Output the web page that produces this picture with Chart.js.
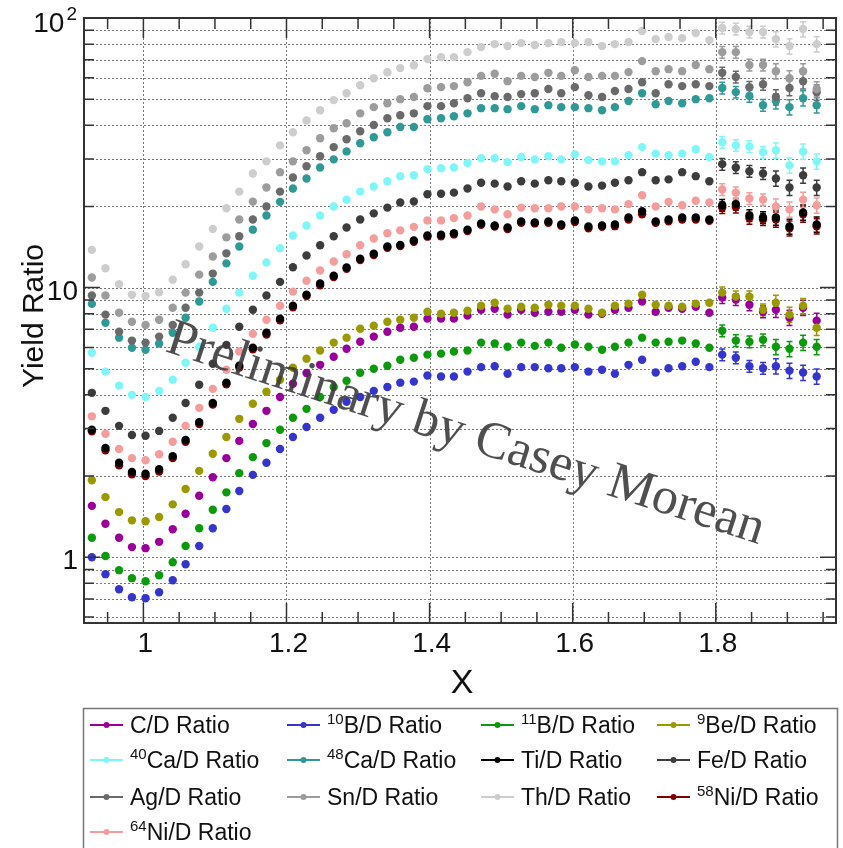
<!DOCTYPE html>
<html>
<head>
<meta charset="utf-8">
<script src="https://cdn.jsdelivr.net/npm/chart.js@4.4.1/dist/chart.umd.min.js"></script>
<style>
  html, body { margin: 0; padding: 0; background: #ffffff; }
  canvas { display: block; }
</style>
</head>
<body>
<canvas id="ratioChart" width="843" height="848"></canvas>
<script>
// x bin centres
const xVals = [0.928, 0.947, 0.966, 0.984, 1.003, 1.022, 1.041, 1.059, 1.078, 1.097,
    1.116, 1.134, 1.153, 1.172, 1.191, 1.209, 1.228, 1.247, 1.266, 1.284,
    1.303, 1.322, 1.341, 1.359, 1.378, 1.397, 1.416, 1.434, 1.453, 1.472,
    1.491, 1.509, 1.528, 1.547, 1.566, 1.584, 1.603, 1.622, 1.641, 1.659,
    1.678, 1.697, 1.716, 1.734, 1.753, 1.772, 1.791, 1.809, 1.828, 1.847,
    1.866, 1.884, 1.903, 1.922, 1.941];

// yield ratios, one array per target
const cRatio = [1.55, 1.33, 1.18, 1.09, 1.08, 1.14, 1.27, 1.45, 1.69, 1.98, 2.33, 2.70, 3.12, 3.49, 3.93, 4.40, 4.82, 5.17, 5.54, 5.93, 6.30, 6.58, 6.86, 7.10, 7.16, 7.67, 7.67, 7.67, 7.87, 8.28, 8.35, 7.94, 8.28, 8.07, 8.14, 8.14, 8.28, 7.94, 8.0, 8.28, 8.42, 8.88, 8.14, 8.42, 8.35, 8.49, 8.07, 9.18, 9.03, 8.64, 8.14, 8.28, 7.73, 8.42, 7.54];
const b10Ratio = [1.0, 0.865, 0.760, 0.710, 0.704, 0.741, 0.821, 0.942, 1.10, 1.28, 1.51, 1.76, 2.02, 2.24, 2.52, 2.79, 3.04, 3.29, 3.52, 3.77, 3.93, 4.14, 4.28, 4.44, 4.48, 4.72, 4.68, 4.68, 4.88, 5.07, 5.11, 4.79, 5.07, 5.07, 5.02, 5.02, 5.07, 4.88, 4.96, 4.79, 5.17, 5.40, 4.84, 5.02, 5.11, 5.31, 5.07, 5.64, 5.49, 5.11, 5.02, 5.11, 4.92, 4.84, 4.68];
const b11Ratio = [1.18, 1.01, 0.895, 0.836, 0.814, 0.857, 0.958, 1.10, 1.28, 1.50, 1.74, 2.05, 2.35, 2.65, 2.97, 3.29, 3.55, 3.93, 4.28, 4.51, 4.83, 5.0, 5.13, 5.40, 5.49, 5.64, 5.69, 5.79, 5.84, 6.25, 6.20, 6.03, 6.25, 6.08, 6.25, 5.98, 6.15, 6.03, 5.88, 6.03, 6.25, 6.52, 6.25, 6.30, 6.36, 6.20, 5.98, 6.92, 6.36, 6.30, 6.41, 6.03, 5.93, 6.25, 6.03];
const be9Ratio = [1.93, 1.67, 1.47, 1.37, 1.36, 1.41, 1.57, 1.79, 2.09, 2.42, 2.79, 3.26, 3.71, 4.11, 4.55, 5.04, 5.45, 5.84, 6.25, 6.52, 7.04, 7.22, 7.47, 7.60, 7.73, 8.14, 8.0, 8.07, 8.21, 8.56, 8.79, 8.35, 8.49, 8.42, 8.64, 8.56, 8.56, 8.35, 8.07, 8.56, 8.72, 9.41, 8.64, 8.56, 8.49, 8.72, 8.79, 9.58, 9.26, 9.26, 8.28, 8.79, 7.94, 8.56, 7.10];
const ca40Ratio = [5.73, 4.88, 4.33, 4.0, 3.93, 4.14, 4.55, 5.26, 6.03, 7.1, 8.35, 9.58, 11.07, 12.4, 14.0, 15.6, 17.0, 18.5, 20.0, 21.2, 22.7, 23.7, 24.8, 25.9, 26.1, 27.5, 27.7, 27.9, 29.0, 30.2, 30.2, 29.2, 30.5, 29.9, 30.7, 29.9, 31.2, 29.7, 29.4, 29.4, 31.0, 33.2, 31.4, 31.0, 31.4, 32.6, 30.5, 34.6, 33.7, 33.4, 31.8, 32.3, 28.4, 32.0, 29.4];
const ca48Ratio = [8.7, 7.41, 6.52, 5.98, 5.88, 6.2, 6.8, 7.73, 8.88, 10.5, 12.3, 14.2, 16.4, 18.5, 20.8, 23.3, 25.4, 27.9, 29.9, 32.0, 34.3, 36.1, 37.7, 39.4, 39.4, 42.1, 42.5, 43.2, 44.3, 46.3, 46.3, 45.9, 47.1, 45.9, 47.5, 46.7, 46.7, 46.3, 45.5, 46.7, 49.2, 52.6, 47.9, 49.2, 48.3, 50.0, 50.4, 55.0, 53.1, 51.3, 47.5, 49.2, 46.7, 50.4, 47.5];
const tiRatio = [2.97, 2.54, 2.24, 2.07, 2.04, 2.12, 2.37, 2.72, 3.17, 3.73, 4.44, 5.13, 5.98, 6.80, 7.67, 8.56, 9.41, 10.35, 11.07, 11.87, 12.8, 13.35, 14.2, 14.4, 14.95, 15.6, 15.7, 15.9, 16.4, 17.3, 17.0, 16.7, 17.6, 17.45, 17.6, 17.15, 17.75, 16.85, 17.0, 17.15, 18.2, 19.2, 17.6, 17.9, 18.2, 18.2, 17.9, 20.2, 20.4, 18.5, 18.2, 18.2, 16.85, 19.0, 17.15];
const feRatio = [4.07, 3.49, 3.07, 2.84, 2.82, 2.94, 3.29, 3.73, 4.36, 5.22, 6.13, 7.16, 8.28, 9.35, 10.5, 11.9, 13.15, 14.35, 15.5, 16.7, 17.9, 18.85, 19.8, 20.7, 20.85, 22.2, 22.3, 22.5, 23.3, 24.5, 24.3, 23.7, 24.8, 24.3, 25.0, 24.8, 24.5, 23.7, 23.9, 24.5, 25.0, 26.8, 25.0, 25.2, 26.8, 25.9, 24.8, 28.7, 27.9, 27.0, 26.5, 25.4, 23.5, 26.1, 23.5];
const agRatio = [9.35, 7.94, 6.86, 6.36, 6.25, 6.58, 7.27, 8.42, 9.58, 11.27, 13.4, 15.5, 17.9, 20.0, 22.7, 25.6, 28.2, 30.7, 33.2, 35.5, 38.0, 40.1, 42.5, 43.6, 44.3, 47.1, 47.1, 48.3, 50.4, 52.6, 51.3, 50.9, 52.2, 52.6, 54.5, 52.6, 55.4, 51.7, 50.9, 53.6, 54.5, 57.8, 52.6, 56.8, 55.9, 56.8, 55.9, 62.6, 60.4, 55.4, 56.8, 50.9, 55.0, 58.3, 53.0];
const snRatio = [10.9, 9.35, 8.07, 7.47, 7.27, 7.60, 8.42, 9.58, 11.17, 13.04, 15.36, 17.9, 20.84, 23.5, 26.8, 29.4, 32.3, 35.8, 39.0, 40.7, 44.3, 46.7, 48.3, 50.0, 50.9, 54.9, 55.4, 55.9, 57.8, 61.0, 62.1, 58.3, 61.0, 60.4, 62.6, 61.0, 64.0, 60.4, 61.0, 61.0, 63.0, 69.2, 63.5, 64.6, 63.5, 66.9, 64.6, 74.7, 74.7, 66.9, 66.9, 63.5, 59.8, 63.5, 54.5];
const thRatio = [13.8, 11.8, 10.3, 9.4, 9.3, 9.6, 10.7, 12.2, 14.2, 16.5, 19.7, 22.7, 26.5, 29.4, 33.7, 37.7, 41.7, 45.5, 49.6, 52.6, 56.3, 59.8, 62.9, 65.2, 66.8, 70.4, 71.6, 71.6, 74.7, 78.0, 80.0, 78.7, 80.7, 79.4, 80.7, 81.4, 80.7, 81.4, 78.7, 80.0, 81.4, 89.5, 83.5, 85.0, 84.2, 88.0, 82.8, 91.8, 91.0, 88.7, 88.7, 83.5, 78.7, 91.0, 80.0];
const ni58Ratio = [2.93, 2.49, 2.19, 2.03, 2.0, 2.08, 2.33, 2.68, 3.12, 3.68, 4.38, 5.05, 5.9, 6.7, 7.57, 8.45, 9.3, 10.2, 10.95, 11.75, 12.65, 13.2, 14.05, 14.25, 14.8, 15.45, 15.5, 15.75, 16.2, 17.1, 16.85, 16.5, 17.4, 17.3, 17.4, 16.95, 17.5, 16.6, 16.8, 16.9, 17.9, 18.7, 17.4, 17.6, 17.9, 17.9, 17.7, 19.8, 19.9, 18.1, 17.9, 17.9, 16.6, 18.7, 16.9];
const ni64Ratio = [3.33, 2.87, 2.52, 2.33, 2.29, 2.41, 2.68, 3.07, 3.58, 4.21, 4.96, 5.79, 6.74, 7.60, 8.56, 9.66, 10.6, 11.57, 12.5, 13.3, 14.35, 15.2, 15.9, 16.3, 16.8, 17.75, 17.75, 18.1, 18.5, 20.0, 19.5, 18.7, 19.8, 19.7, 19.7, 20.0, 20.0, 19.5, 19.7, 19.5, 20.4, 22.0, 20.0, 20.8, 20.2, 21.0, 20.7, 23.1, 22.5, 21.4, 21.2, 20.0, 19.5, 21.2, 20.2];

// relative statistical error per bin (same for all targets)
const relErr = [0.008, 0.008, 0.008, 0.008, 0.008, 0.008, 0.008, 0.008, 0.008, 0.008,
    0.008, 0.008, 0.008, 0.008, 0.008, 0.008, 0.008, 0.008, 0.008, 0.008,
    0.008, 0.008, 0.008, 0.008, 0.008, 0.008, 0.008, 0.008, 0.008, 0.008,
    0.008, 0.008, 0.008, 0.008, 0.008, 0.02, 0.02, 0.02, 0.02, 0.02,
    0.02, 0.035, 0.035, 0.035, 0.035, 0.035, 0.035, 0.05, 0.05, 0.05,
    0.05, 0.065, 0.065, 0.065, 0.065];

// legend text, isotope superscripts and colours (legend order)
const seriesNames = ['C/D Ratio', 'B/D Ratio', 'B/D Ratio', 'Be/D Ratio', 'Ca/D Ratio', 'Ca/D Ratio',
    'Ti/D Ratio', 'Fe/D Ratio', 'Ag/D Ratio', 'Sn/D Ratio', 'Th/D Ratio', 'Ni/D Ratio', 'Ni/D Ratio'];
const seriesSups = ['', '10', '11', '9', '40', '48', '', '', '', '', '', '58', '64'];
const seriesColors = ['#990099', '#3535cc', '#0b9a0b', '#9a9a00', '#80f7f7', '#2f9995',
    '#000000', '#3c3c3c', '#6a6a6a', '#9c9c9c', '#cdcdcd', '#800000', '#f59c9c'];
const seriesValues = [cRatio, b10Ratio, b11Ratio, be9Ratio, ca40Ratio, ca48Ratio,
    tiRatio, feRatio, agRatio, snRatio, thRatio, ni58Ratio, ni64Ratio];

// axis ticks
const xTickValues = [1, 1.2, 1.4, 1.6, 1.8];
const xTickLabels = ['1', '1.2', '1.4', '1.6', '1.8'];
const xMinorTicks = [0.95, 1.05, 1.1, 1.15, 1.25, 1.3, 1.35, 1.45, 1.5, 1.55,
    1.65, 1.7, 1.75, 1.85, 1.9, 1.95];
const yTickValues = [1, 10, 100];
const yTickLabels = ['1', '10', '10'];
const yTickSups = ['', '', '2'];
const yMinorTicks = [0.6, 0.7, 0.8, 0.9, 2, 3, 4, 5, 6, 7, 8, 9, 20, 30, 40, 50, 60, 70, 80, 90];

const SANS = '"Liberation Sans", Arial, Helvetica, sans-serif';
const SERIF = '"Liberation Serif", "Times New Roman", serif';

const datasets = seriesValues.map((vals, i) => ({
    label: (seriesSups[i] ? seriesSups[i] : '') + seriesNames[i],
    data: vals.map((v, k) => ({ x: xVals[k], y: v })),
    showLine: false,
    pointRadius: 4.2,
    pointHoverRadius: 4.2,
    pointBorderWidth: 0,
    pointBackgroundColor: seriesColors[i],
    backgroundColor: seriesColors[i],
    borderColor: seriesColors[i],
    // later entries on top, Ti kept above 58Ni
    order: i === 6 ? -20 : -i
}));

const rootStyle = {
    id: 'rootStyle',
    beforeDraw(chart) {
        const ctx = chart.ctx;
        ctx.save();
        ctx.fillStyle = '#ffffff';
        ctx.fillRect(0, 0, chart.width, chart.height);
        ctx.restore();
    },
    beforeDatasetsDraw(chart) {
        const ctx = chart.ctx;
        const area = chart.chartArea;
        const xs = chart.scales.x;
        const ys = chart.scales.y;

        // dotted grid
        ctx.save();
        ctx.strokeStyle = '#7a7a7a';
        ctx.lineWidth = 1;
        ctx.setLineDash([2, 2]);
        xTickValues.forEach(v => {
            const px = Math.round(xs.getPixelForValue(v)) + 0.5;
            ctx.beginPath();
            ctx.moveTo(px, area.top);
            ctx.lineTo(px, area.bottom);
            ctx.stroke();
        });
        yTickValues.concat(yMinorTicks).forEach(v => {
            if (v >= 100) return;
            const py = Math.round(ys.getPixelForValue(v)) + 0.5;
            ctx.beginPath();
            ctx.moveTo(area.left, py);
            ctx.lineTo(area.right, py);
            ctx.stroke();
        });
        ctx.restore();

        // error bars
        ctx.save();
        ctx.lineWidth = 1.5;
        seriesValues.forEach((vals, s) => {
            ctx.strokeStyle = seriesColors[s];
            vals.forEach((v, k) => {
                const e = relErr[k];
                const px = xs.getPixelForValue(xVals[k]);
                const top = ys.getPixelForValue(v * (1 + e));
                const bot = ys.getPixelForValue(v * (1 - e));
                if (bot - top < 9) return;
                ctx.beginPath();
                ctx.moveTo(px, top);
                ctx.lineTo(px, bot);
                ctx.moveTo(px - 3, top);
                ctx.lineTo(px + 3, top);
                ctx.moveTo(px - 3, bot);
                ctx.lineTo(px + 3, bot);
                ctx.stroke();
            });
        });
        ctx.restore();
    },
    afterDatasetsDraw(chart) {
        const ctx = chart.ctx;
        const area = chart.chartArea;
        const xs = chart.scales.x;
        const ys = chart.scales.y;

        ctx.save();
        // frame
        ctx.strokeStyle = '#333333';
        ctx.lineWidth = 2;
        ctx.strokeRect(area.left, area.top, area.right - area.left, area.bottom - area.top);

        // ticks
        ctx.lineWidth = 1.5;
        const xTick = (v, len) => {
            const px = xs.getPixelForValue(v);
            ctx.beginPath();
            ctx.moveTo(px, area.bottom);
            ctx.lineTo(px, area.bottom - len);
            ctx.moveTo(px, area.top);
            ctx.lineTo(px, area.top + len);
            ctx.stroke();
        };
        const yTick = (v, len) => {
            const py = ys.getPixelForValue(v);
            ctx.beginPath();
            ctx.moveTo(area.left, py);
            ctx.lineTo(area.left + len, py);
            ctx.moveTo(area.right, py);
            ctx.lineTo(area.right - len, py);
            ctx.stroke();
        };
        xTickValues.forEach(v => xTick(v, 20));
        xMinorTicks.forEach(v => xTick(v, 11));
        yTickValues.forEach(v => { if (v < 100) yTick(v, 16); });
        yMinorTicks.forEach(v => yTick(v, 10));

        // tick labels
        ctx.fillStyle = '#111111';
        ctx.font = '28px ' + SANS;
        ctx.textAlign = 'center';
        ctx.textBaseline = 'alphabetic';
        xTickValues.forEach((v, i) => {
            ctx.fillText(xTickLabels[i], xs.getPixelForValue(v) + 2, 652);
        });
        yTickValues.forEach((v, i) => {
            const py = ys.getPixelForValue(v);
            let right = 78;
            if (yTickSups[i]) {
                ctx.font = '19px ' + SANS;
                const w = ctx.measureText(yTickSups[i]).width;
                right = 78 - w - 3;
                ctx.textAlign = 'left';
                ctx.fillText(yTickSups[i], right + 2, py + 2);
            }
            ctx.font = '28px ' + SANS;
            ctx.textAlign = 'right';
            const base = yTickSups[i] ? py + 14 : py + 12;
            ctx.fillText(yTickLabels[i], right, base);
        });

        // axis titles
        ctx.font = '34px ' + SANS;
        ctx.textAlign = 'center';
        ctx.textBaseline = 'middle';
        ctx.fillText('X', 462, 684);
        ctx.save();
        ctx.translate(35, 316);
        ctx.rotate(-Math.PI / 2);
        ctx.font = '30px ' + SANS;
        ctx.fillText('Yield Ratio', 0, 0);
        ctx.restore();

        // watermark
        ctx.save();
        ctx.translate(164, 351);
        ctx.rotate(18 * Math.PI / 180);
        ctx.font = '52px ' + SERIF;
        ctx.textAlign = 'left';
        ctx.textBaseline = 'alphabetic';
        ctx.fillStyle = 'rgba(60, 60, 60, 0.9)';
        ctx.fillText('Preliminary by Casey Morean', 0, 0);
        ctx.restore();

        // legend
        const legendColX = [90, 287, 481, 657];
        const legendRowY = [725, 760, 797, 832];
        ctx.strokeStyle = '#777777';
        ctx.lineWidth = 1.5;
        ctx.strokeRect(83.5, 708.5, 754, 160);
        ctx.textAlign = 'left';
        ctx.textBaseline = 'alphabetic';
        seriesNames.forEach((name, i) => {
            const x0 = legendColX[i % 4];
            const cy = legendRowY[Math.floor(i / 4)];
            ctx.strokeStyle = seriesColors[i];
            ctx.fillStyle = seriesColors[i];
            ctx.lineWidth = 2;
            ctx.beginPath();
            ctx.moveTo(x0, cy);
            ctx.lineTo(x0 + 33, cy);
            ctx.stroke();
            ctx.beginPath();
            ctx.arc(x0 + 16.5, cy, 3, 0, Math.PI * 2);
            ctx.fill();

            let tx = x0 + 40;
            const base = cy + 8;
            ctx.fillStyle = '#111111';
            if (seriesSups[i]) {
                ctx.font = '15px ' + SANS;
                ctx.fillText(seriesSups[i], tx, base - 9);
                tx += ctx.measureText(seriesSups[i]).width;
            }
            ctx.font = '23px ' + SANS;
            ctx.fillText(name, tx, base);
        });
        ctx.restore();
    }
};

new Chart(document.getElementById('ratioChart'), {
    type: 'scatter',
    data: { datasets: datasets },
    options: {
        responsive: false,
        animation: false,
        devicePixelRatio: 1,
        layout: { padding: { left: 84, right: 7, top: 18, bottom: 225 } },
        scales: {
            x: { type: 'linear', min: 0.917, max: 1.968, display: false },
            y: { type: 'logarithmic', min: 0.57, max: 100, display: false }
        },
        plugins: {
            legend: { display: false },
            tooltip: { enabled: false }
        }
    },
    plugins: [rootStyle]
});
</script>
</body>
</html>
